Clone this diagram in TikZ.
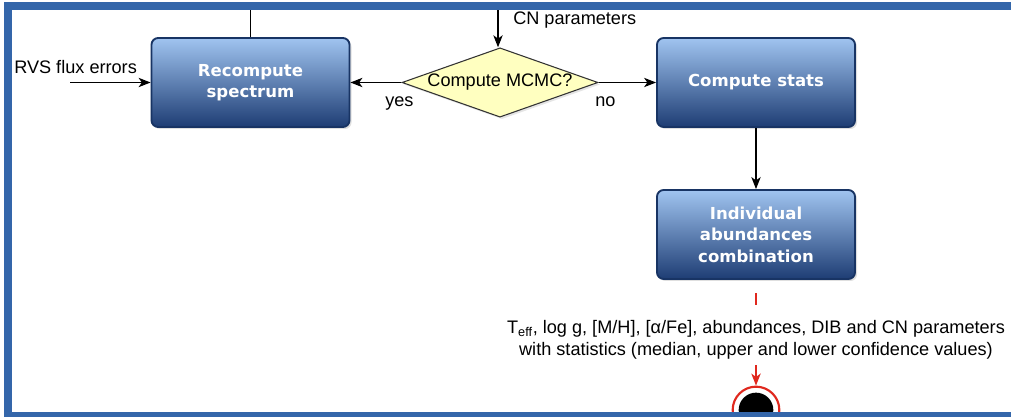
\documentclass[tikz,border=0pt]{standalone}
\usepackage{fontspec}
\setmainfont{Liberation Sans}
\newfontfamily\boxfont{DejaVu Sans}
\usetikzlibrary{arrows.meta,shapes.geometric,shadows}
\definecolor{frameblue}{RGB}{52,102,170}
\definecolor{boxtop}{RGB}{160,196,240}
\definecolor{boxbot}{RGB}{30,61,116}
\definecolor{boxline}{RGB}{24,52,100}
\definecolor{diafill}{RGB}{255,255,192}
\definecolor{endred}{RGB}{224,40,30}
\tikzset{
  procbox/.style={rectangle, rounded corners=5pt, minimum width=148.5pt, minimum height=66.75pt,
    top color=boxtop, bottom color=boxbot, draw=boxline, line width=1.4pt,
    text=white, align=center, font=\boxfont\bfseries\fontsize{12.4}{16.2}\selectfont,
    drop shadow={opacity=0.25, shadow xshift=1.5pt, shadow yshift=-1.5pt}},
  decision/.style={diamond, aspect=2.84, inner sep=0pt, minimum width=147pt, minimum height=52pt,
    fill=diafill, draw=black!80, line width=0.8pt, font=\fontsize{13.6}{16}\selectfont,
    drop shadow={opacity=0.2, shadow xshift=1.5pt, shadow yshift=-1.5pt}},
  lbl/.style={font=\fontsize{13.6}{16.5}\selectfont, inner sep=0pt},
  flow/.style={line width=1pt, -{Stealth[length=9pt,width=7pt,inset=2.5pt]}},
  plain/.style={line width=1pt},
  redflow/.style={line width=1pt, draw=endred, -{Stealth[length=9pt,width=7pt,inset=2.5pt]}},
}
\begin{document}
\begin{tikzpicture}[x=0.75pt,y=-0.75pt]
\useasboundingbox (0,0) rectangle (1011,417);
\fill[white] (0,0) rectangle (1011,417);

% nodes
\node[procbox] (recomp) at (250.5,82.5) {Recompute\\spectrum};
\node[decision] (mcmc) at (500,82.5) {Compute MCMC?};
\node[procbox] (stats) at (756,82.5) {Compute stats};
\node[procbox] (indiv) at (756,234.5) {Individual\\abundances\\combination};
\node[lbl, align=center] (result) at (756,340)
  {T\textsubscript{eff}, log g, [M/H], [α/Fe], abundances, DIB and CN parameters\\
   with statistics (median, upper and lower confidence values)};

% end node
\node[circle, draw=endred, line width=1.6pt, fill=white, minimum size=35pt, inner sep=0pt] (endring) at (756,410) {};
\node[circle, fill=black, minimum size=26pt, inner sep=0pt] (enddot) at (756,410) {};

% labels and free ends
\node[lbl, anchor=base west] (rvslbl) at (14,74) {RVS flux errors};
\node[lbl, anchor=base west] (cnlbl) at (513,25) {CN parameters};
\node[lbl, anchor=base west] (yeslbl) at (385,107) {yes};
\node[lbl, anchor=base west] (nolbl) at (595,107) {no};
\coordinate (rvsin) at (70,82.5);
\coordinate (topL) at (250.5,8);
\coordinate (topC) at (498,8);
\coordinate (redA) at (756,293);
\coordinate (redB) at (756,305);
\coordinate (redC) at (756,365);

% connectors
\draw[flow] (rvsin) -- (recomp.west);
\draw[plain] (recomp.north) -- (topL);
\draw[flow] (topC) -- (topC |- mcmc.north);
\draw[flow] (mcmc.west) -- (recomp.east);
\draw[flow] (mcmc.east) -- (stats.west);
\draw[flow] (stats.south) -- (indiv.north);
\draw[plain, draw=endred] (redA) -- (redB);
\draw[redflow] (redC) -- (endring.north);

% frame
\draw[frameblue, line width=6pt] (8,6) rectangle (1030,416);
\end{tikzpicture}
\end{document}
